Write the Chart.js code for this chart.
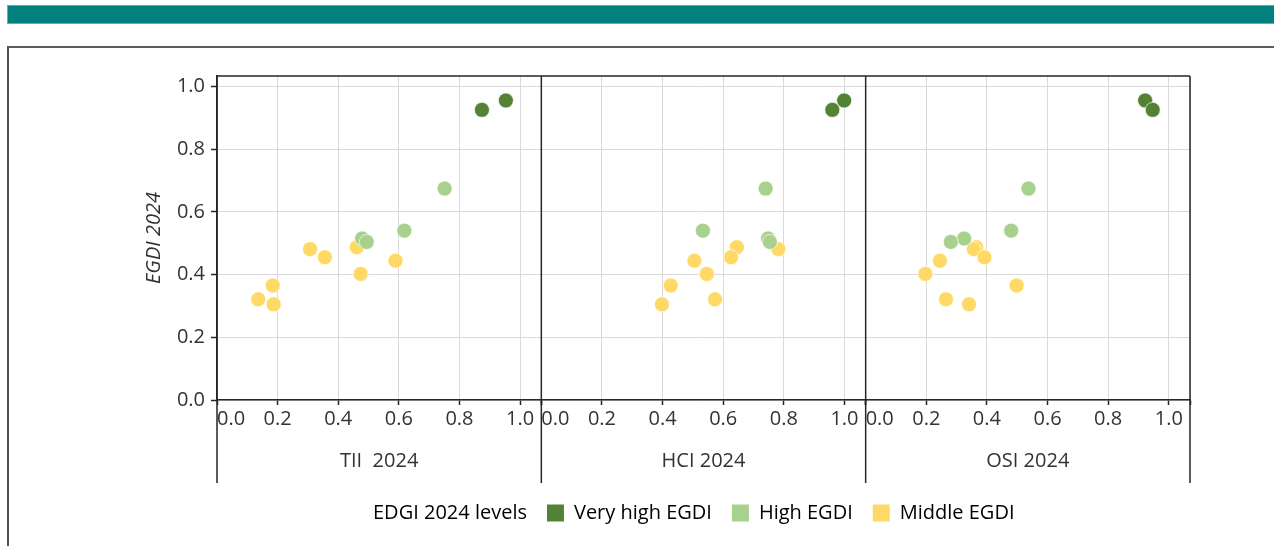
<!DOCTYPE html>
<html>
<head>
<meta charset="utf-8">
<script src="https://cdn.jsdelivr.net/npm/chart.js@4.4.1/dist/chart.umd.min.js"></script>
<style>
  html, body { margin: 0; padding: 0; background: #fff; width: 1274px; height: 546px; overflow: hidden; position: relative; }
  #band { position: absolute; left: 7px; top: 5px; width: 1267px; height: 19px; background: #02807d; box-sizing: border-box; border: 1px solid #63aeab; border-right: none; }
  #frame { position: absolute; left: 7px; top: 46px; width: 1280px; height: 520px; border-left: 2px solid #4f4f4f; border-top: 2px solid #5c5c5c; }
  #chart { position: absolute; left: 10px; top: 49px; }
</style>
</head>
<body>
<div id="band"></div>
<div id="frame"></div>
<canvas id="chart" width="1264" height="497"></canvas>
<script>
// EGDI 2024 and its three component indices, grouped by EGDI level
const levelNames = ['Very high EGDI', 'High EGDI', 'Middle EGDI'];
const legendHeading = 'EDGI 2024 levels';
const panelTitles = ['TII  2024', 'HCI 2024', 'OSI 2024'];
const yTitle = 'EGDI 2024';
const axisTicks = [0, 0.2, 0.4, 0.6, 0.8, 1.0];

const egdiVeryHigh = [0.955, 0.925];
const tiiVeryHigh  = [0.953, 0.874];
const hciVeryHigh  = [0.999, 0.960];
const osiVeryHigh  = [0.922, 0.947];

const egdiHigh = [0.674, 0.540, 0.515, 0.504];
const tiiHigh  = [0.751, 0.618, 0.479, 0.494];
const hciHigh  = [0.740, 0.533, 0.748, 0.754];
const osiHigh  = [0.537, 0.480, 0.325, 0.281];

const egdiMiddle = [0.487, 0.481, 0.455, 0.444, 0.402, 0.365, 0.321, 0.305];
const tiiMiddle  = [0.461, 0.307, 0.356, 0.589, 0.474, 0.184, 0.136, 0.187];
const hciMiddle  = [0.645, 0.782, 0.626, 0.505, 0.546, 0.427, 0.573, 0.398];
const osiMiddle  = [0.365, 0.357, 0.392, 0.245, 0.197, 0.498, 0.265, 0.341];

// styling
const levelColors = ['#548235', '#a9d18e', '#ffd966'];
const FONT = "'Open Sans', 'Noto Sans', sans-serif";
const TEXT = '#333333';
const LINE = '#262626';
const GRID = '#d9d9d9';

const levelEgdi = [egdiVeryHigh, egdiHigh, egdiMiddle];
const panelValues = [
  [tiiVeryHigh, tiiHigh, tiiMiddle],
  [hciVeryHigh, hciHigh, hciMiddle],
  [osiVeryHigh, osiHigh, osiMiddle]
];
const panelIds = ['x0', 'x1', 'x2'];

const datasets = [];
panelValues.forEach((perLevel, p) => {
  perLevel.forEach((xs, l) => {
    datasets.push({
      label: levelNames[l],
      xAxisID: panelIds[p],
      yAxisID: 'y',
      data: xs.map((x, i) => ({ x: x, y: levelEgdi[l][i] })),
      backgroundColor: levelColors[l],
      borderColor: 'rgba(255,255,255,0.65)',
      borderWidth: 1,
      pointRadius: 7.5,
      pointHoverRadius: 7.5
    });
  });
});

const X_MAX = 1.07;
const Y_MAX = 1.033;

function panelScale(p) {
  return {
    type: 'linear',
    position: 'bottom',
    stack: 'panels',
    stackWeight: 1,
    min: 0,
    max: X_MAX,
    afterBuildTicks: (s) => {
      // regular ticks plus an unlabelled one at the panel's right edge
      s.ticks = axisTicks.map(v => ({ value: v })).concat([{ value: X_MAX }]);
    },
    afterFit: (s) => { s.height = 83; },
    ticks: {
      align: 'inner',
      autoSkip: false,
      minRotation: 0,
      maxRotation: 0,
      padding: 2,
      color: TEXT,
      font: { family: FONT, size: 20 },
      callback: (v) => (v > 1.0001 ? '' : Number(v).toFixed(1))
    },
    grid: { color: GRID, lineWidth: 1, tickLength: 5, tickColor: LINE, tickWidth: 1.5 },
    border: { color: LINE, width: 1.5 },
    title: {
      display: true,
      text: panelTitles[p],
      color: TEXT,
      font: { family: FONT, size: 20 },
      padding: { top: 0, bottom: 10 }
    }
  };
}

// outer plot frame and the panel separators that run down through the axis band
const panelFrame = {
  id: 'panelFrame',
  afterLayout(chart) {
    // legend row starts under the first panel
    chart.legend.left = 316;
  },
  beforeDatasetsDraw(chart) {
    const { ctx, chartArea: a } = chart;
    const xs = panelIds.map(id => chart.scales[id]);
    const bottom = xs[0].bottom;
    ctx.save();
    ctx.strokeStyle = LINE;
    ctx.lineWidth = 1.5;
    ctx.beginPath();
    ctx.moveTo(a.left, a.top);
    ctx.lineTo(a.right, a.top);
    [xs[0].left].concat(xs.map(s => s.right)).forEach(x => {
      ctx.moveTo(x, a.top);
      ctx.lineTo(x, bottom);
    });
    ctx.stroke();
    ctx.restore();
  }
};

const scales = {
  y: {
    type: 'linear',
    position: 'left',
    min: 0,
    max: Y_MAX,
    afterBuildTicks: (s) => { s.ticks = axisTicks.map(v => ({ value: v })); },
    afterFit: (s) => { s.width = 207; },
    ticks: {
      padding: 6,
      color: TEXT,
      font: { family: FONT, size: 20 },
      callback: (v) => Number(v).toFixed(1)
    },
    grid: { color: GRID, lineWidth: 1, tickLength: 6, tickColor: LINE, tickWidth: 1.5 },
    border: { color: LINE, width: 1.5 },
    title: {
      display: true,
      text: yTitle,
      color: TEXT,
      font: { family: FONT, size: 20, style: 'italic' },
      padding: { top: 132, bottom: 0 }
    }
  }
};
panelIds.forEach((id, p) => { scales[id] = panelScale(p); });

new Chart(document.getElementById('chart'), {
  type: 'scatter',
  data: { datasets: datasets },
  plugins: [panelFrame],
  options: {
    responsive: false,
    devicePixelRatio: 1,
    animation: false,
    events: [],
    layout: { padding: { top: 27, right: 84, bottom: 13, left: 0 } },
    scales: scales,
    plugins: {
      tooltip: { enabled: false },
      legend: {
        position: 'bottom',
        align: 'start',
        onClick: () => {},
        labels: {
          boxWidth: 17,
          boxHeight: 17,
          padding: 20,
          color: TEXT,
          font: { family: FONT, size: 20 },
          generateLabels: () => [
            { text: legendHeading, fillStyle: 'rgba(0,0,0,0)', strokeStyle: 'rgba(0,0,0,0)', lineWidth: 0, hidden: false }
          ].concat(levelNames.map((name, i) => ({
            text: name, fillStyle: levelColors[i], strokeStyle: levelColors[i], lineWidth: 0, hidden: false, datasetIndex: i
          })))
        }
      }
    }
  }
});
</script>
</body>
</html>
